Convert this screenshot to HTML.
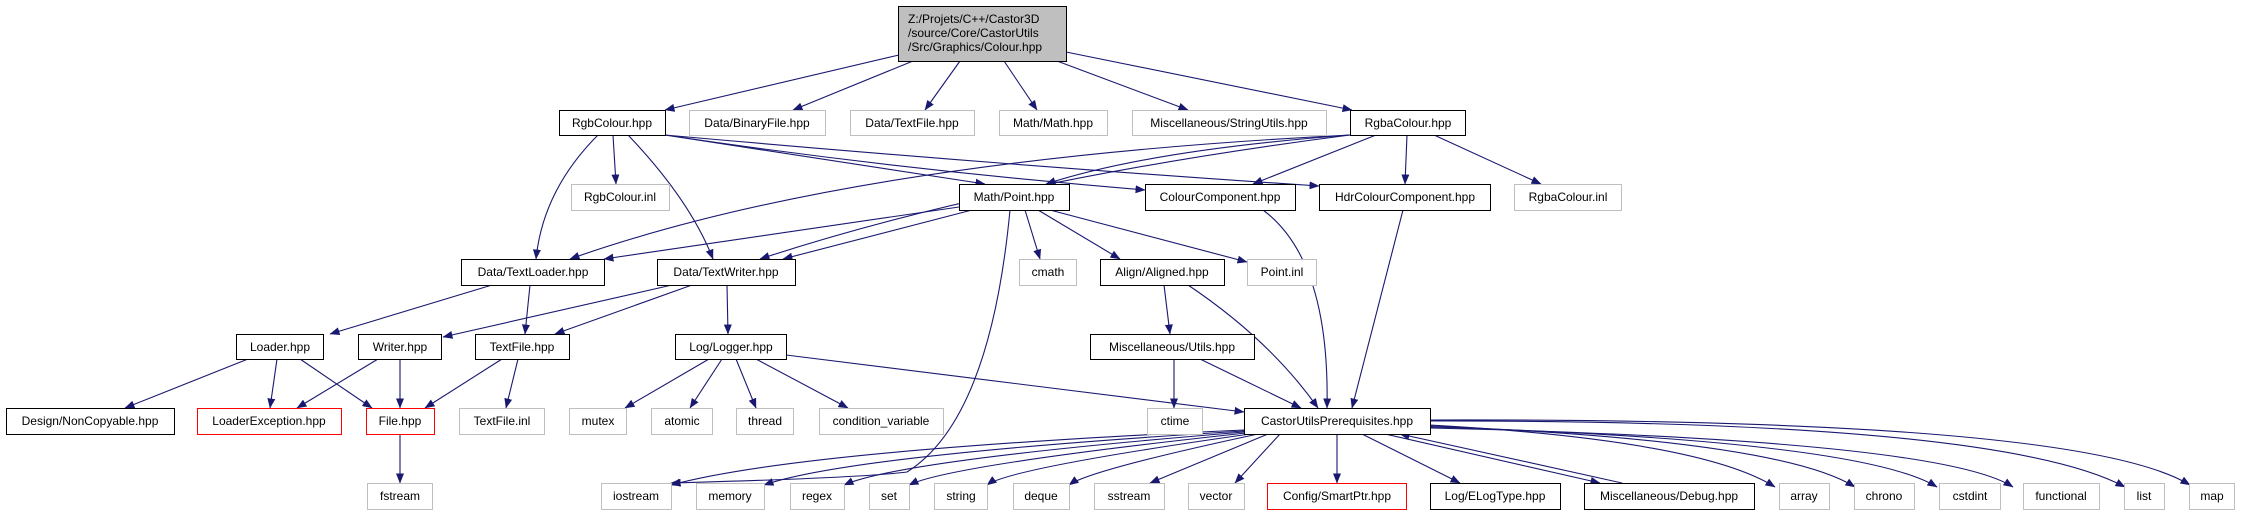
<!DOCTYPE html>
<html><head><meta charset="utf-8"><style>
html,body{margin:0;padding:0;background:#fff;}
svg{display:block;}
text{font-family:"Liberation Sans",Arial,sans-serif;font-size:12px;fill:#000;}
</style></head><body>
<svg width="2242" height="515" viewBox="0 0 2242 515" xmlns="http://www.w3.org/2000/svg">
<defs>
<marker id="a" markerWidth="10" markerHeight="8" refX="9.5" refY="4" orient="auto" markerUnits="userSpaceOnUse">
<path d="M0,0 L10,4 L0,8 Z" fill="#191970"/>
</marker>
</defs>
<g fill="none" stroke="#191970" stroke-width="1.1" marker-end="url(#a)">
<!-- from top -->
<path d="M899,55 L665,110"/>
<path d="M913,61 L793,110"/>
<path d="M960,61 L925,110"/>
<path d="M1004,61 L1037,110"/>
<path d="M1057,61 L1188,110"/>
<path d="M1066,52 L1352,110"/>
<!-- RgbColour -->
<path d="M613,135 L616,184"/>
<path d="M598,135 Q543,190 536,259"/>
<path d="M628,135 Q690,200 713,259"/>
<path d="M665,135 L985,184"/>
<path d="M665,135 Q900,170 1145,190"/>
<path d="M665,135 Q1000,165 1319,186"/>
<!-- RgbaColour -->
<path d="M1350,135 Q1150,150 1046,184"/>
<path d="M1376,135 L1253,184"/>
<path d="M1407,135 L1405,184"/>
<path d="M1434,135 L1541,184"/>
<path d="M1350,135 Q850,160 570,259"/>
<path d="M1350,135 Q1000,180 760,259"/>
<!-- Point -->
<path d="M959,207 L604,259"/>
<path d="M972,210 L783,259"/>
<path d="M1025,210 L1040,259"/>
<path d="M1038,210 L1120,259"/>
<path d="M1050,210 L1247,262"/>
<path d="M1010,210 Q990,420 907,472 Q860,478 671,483"/>
<!-- into CUP -->
<path d="M1188,285 Q1270,340 1318,408"/>
<path d="M1200,359 L1301,408"/>
<path d="M786,355 L1244,412"/>
<path d="M1263,210 Q1330,260 1327,408"/>
<path d="M1403,210 L1352,408"/>
<path d="M1164,285 L1170,334"/>
<path d="M1174,359 L1174,408"/>
<!-- TextLoader / TextWriter -->
<path d="M492,285 L330,334"/>
<path d="M530,285 L525,334"/>
<path d="M672,285 L443,337"/>
<path d="M692,285 L555,334"/>
<path d="M727,285 L728,334"/>
<!-- Loader etc -->
<path d="M248,359 L125,408"/>
<path d="M277,359 L270,408"/>
<path d="M300,359 L372,408"/>
<path d="M378,359 L297,408"/>
<path d="M400,359 L400,408"/>
<path d="M502,359 L425,408"/>
<path d="M518,359 L506,408"/>
<path d="M400,434 L400,483"/>
<path d="M709,359 L625,408"/>
<path d="M722,359 L690,408"/>
<path d="M736,359 L756,408"/>
<path d="M756,359 L848,408"/>
<!-- CUP to bottom -->
<path d="M1244,430 Q800,450 671,485"/>
<path d="M1244,431 Q850,455 764,485"/>
<path d="M1244,432 Q900,460 844,485"/>
<path d="M1246,433 Q950,465 909,485"/>
<path d="M1250,434 Q1010,468 987,485"/>
<path d="M1258,434 Q1090,470 1069,485"/>
<path d="M1268,434 L1150,483"/>
<path d="M1280,434 L1235,483"/>
<path d="M1337,434 L1337,483"/>
<path d="M1362,434 L1460,483"/>
<path d="M1385,434 L1600,483"/>
<path d="M1622,483 L1400,434"/>
<path d="M1430,425 Q1700,440 1775,487"/>
<path d="M1430,426 Q1780,440 1855,487"/>
<path d="M1430,427 Q1860,440 1937,487"/>
<path d="M1430,428 Q1940,440 2013,487"/>
<path d="M1430,421 Q2000,420 2125,487"/>
<path d="M1430,420 Q2080,418 2190,485"/>
</g>
<g stroke-width="1" fill="#fff">
<rect x="898.5" y="6.5" width="168" height="55" fill="#bfbfbf" stroke="#000"/>
<!-- black nodes -->
<g stroke="#000">
<rect x="559.5" y="110.5" width="106" height="25"/>
<rect x="1350.5" y="110.5" width="115" height="25"/>
<rect x="959.5" y="184.5" width="110" height="26"/>
<rect x="1145.5" y="184.5" width="150" height="26"/>
<rect x="1319.5" y="184.5" width="171" height="26"/>
<rect x="461.5" y="259.5" width="143" height="26"/>
<rect x="657.5" y="259.5" width="138" height="26"/>
<rect x="1100.5" y="259.5" width="124" height="26"/>
<rect x="236.5" y="334.5" width="87" height="25"/>
<rect x="358.5" y="334.5" width="83" height="25"/>
<rect x="475.5" y="334.5" width="94" height="25"/>
<rect x="675.5" y="334.5" width="111" height="25"/>
<rect x="1090.5" y="334.5" width="164" height="25"/>
<rect x="6.5" y="408.5" width="168" height="26"/>
<rect x="1244.5" y="408.5" width="186" height="26"/>
<rect x="1430.5" y="483.5" width="130" height="26"/>
<rect x="1584.5" y="483.5" width="170" height="26"/>
</g>
<g stroke="#ff0000">
<rect x="197.5" y="408.5" width="144" height="26"/>
<rect x="366.5" y="408.5" width="68" height="26"/>
<rect x="1267.5" y="483.5" width="139" height="26"/>
</g>
<g stroke="#bfbfbf">
<rect x="689.5" y="110.5" width="136" height="25"/>
<rect x="850.5" y="110.5" width="124" height="25"/>
<rect x="999.5" y="110.5" width="108" height="25"/>
<rect x="1132.5" y="110.5" width="194" height="25"/>
<rect x="571.5" y="184.5" width="98" height="26"/>
<rect x="1514.5" y="184.5" width="107" height="26"/>
<rect x="1019.5" y="259.5" width="57" height="26"/>
<rect x="1247.5" y="259.5" width="69" height="26"/>
<rect x="459.5" y="408.5" width="85" height="26"/>
<rect x="569.5" y="408.5" width="57" height="26"/>
<rect x="651.5" y="408.5" width="61" height="26"/>
<rect x="736.5" y="408.5" width="57" height="26"/>
<rect x="819.5" y="408.5" width="124" height="26"/>
<rect x="1147.5" y="408.5" width="55" height="26"/>
<rect x="367.5" y="483.5" width="65" height="26"/>
<rect x="601.5" y="483.5" width="70" height="26"/>
<rect x="696.5" y="483.5" width="68" height="26"/>
<rect x="790.5" y="483.5" width="54" height="26"/>
<rect x="869.5" y="483.5" width="40" height="26"/>
<rect x="934.5" y="483.5" width="53" height="26"/>
<rect x="1013.5" y="483.5" width="56" height="26"/>
<rect x="1094.5" y="483.5" width="70" height="26"/>
<rect x="1188.5" y="483.5" width="56" height="26"/>
<rect x="1779.5" y="483.5" width="50" height="26"/>
<rect x="1854.5" y="483.5" width="60" height="26"/>
<rect x="1939.5" y="483.5" width="61" height="26"/>
<rect x="2023.5" y="483.5" width="76" height="26"/>
<rect x="2124.5" y="483.5" width="40" height="26"/>
<rect x="2189.5" y="483.5" width="45" height="26"/>
</g>
</g>
<text x="908" y="23">Z:/Projets/C++/Castor3D</text>
<text x="908" y="37">/source/Core/CastorUtils</text>
<text x="908" y="51">/Src/Graphics/Colour.hpp</text>
<g text-anchor="middle">
<text x="612" y="127">RgbColour.hpp</text>
<text x="757" y="127">Data/BinaryFile.hpp</text>
<text x="912" y="127">Data/TextFile.hpp</text>
<text x="1053" y="127">Math/Math.hpp</text>
<text x="1229" y="127">Miscellaneous/StringUtils.hpp</text>
<text x="1408" y="127">RgbaColour.hpp</text>
<text x="620" y="201">RgbColour.inl</text>
<text x="1014" y="201">Math/Point.hpp</text>
<text x="1220" y="201">ColourComponent.hpp</text>
<text x="1405" y="201">HdrColourComponent.hpp</text>
<text x="1568" y="201">RgbaColour.inl</text>
<text x="533" y="276">Data/TextLoader.hpp</text>
<text x="726" y="276">Data/TextWriter.hpp</text>
<text x="1048" y="276">cmath</text>
<text x="1162" y="276">Align/Aligned.hpp</text>
<text x="1282" y="276">Point.inl</text>
<text x="280" y="351">Loader.hpp</text>
<text x="400" y="351">Writer.hpp</text>
<text x="522" y="351">TextFile.hpp</text>
<text x="731" y="351">Log/Logger.hpp</text>
<text x="1172" y="351">Miscellaneous/Utils.hpp</text>
<text x="90" y="425">Design/NonCopyable.hpp</text>
<text x="269" y="425">LoaderException.hpp</text>
<text x="400" y="425">File.hpp</text>
<text x="502" y="425">TextFile.inl</text>
<text x="598" y="425">mutex</text>
<text x="682" y="425">atomic</text>
<text x="765" y="425">thread</text>
<text x="881" y="425">condition_variable</text>
<text x="1175" y="425">ctime</text>
<text x="1337" y="425">CastorUtilsPrerequisites.hpp</text>
<text x="400" y="500">fstream</text>
<text x="636" y="500">iostream</text>
<text x="730" y="500">memory</text>
<text x="817" y="500">regex</text>
<text x="889" y="500">set</text>
<text x="961" y="500">string</text>
<text x="1041" y="500">deque</text>
<text x="1129" y="500">sstream</text>
<text x="1216" y="500">vector</text>
<text x="1337" y="500">Config/SmartPtr.hpp</text>
<text x="1495" y="500">Log/ELogType.hpp</text>
<text x="1669" y="500">Miscellaneous/Debug.hpp</text>
<text x="1804" y="500">array</text>
<text x="1884" y="500">chrono</text>
<text x="1970" y="500">cstdint</text>
<text x="2061" y="500">functional</text>
<text x="2144" y="500">list</text>
<text x="2212" y="500">map</text>
</g>
</svg>
</body></html>
